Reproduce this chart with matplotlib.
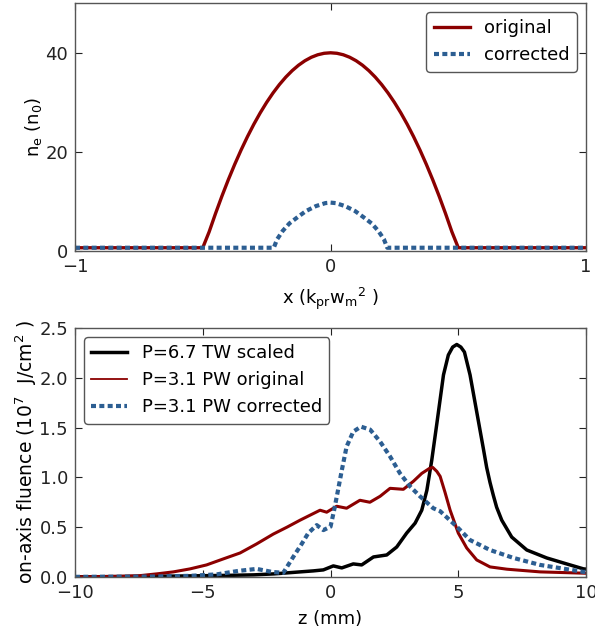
import matplotlib
matplotlib.use("Agg")
import matplotlib.pyplot as plt

# ---------------- data: top panel (density profiles) ----------------
x_orig = [-1.0, -0.5, -0.475, -0.45, -0.425, -0.4, -0.375, -0.35, -0.325, -0.3, -0.275,
          -0.25, -0.225, -0.2, -0.175, -0.15, -0.125, -0.1, -0.075, -0.05, -0.025, 0.0,
          0.025, 0.05, 0.075, 0.1, 0.125, 0.15, 0.175, 0.2, 0.225, 0.25, 0.275, 0.3,
          0.325, 0.35, 0.375, 0.4, 0.425, 0.45, 0.475, 0.5, 1.0]
n_orig = [0.7, 0.7, 3.9, 7.6, 11.1, 14.4, 17.5, 20.4, 23.1, 25.6, 27.9,
          30.0, 31.9, 33.6, 35.1, 36.4, 37.5, 38.4, 39.1, 39.6, 39.9, 40.0,
          39.9, 39.6, 39.1, 38.4, 37.5, 36.4, 35.1, 33.6, 31.9, 30.0, 27.9, 25.6,
          23.1, 20.4, 17.5, 14.4, 11.1, 7.6, 3.9, 0.7, 0.7]
x_corr = [-1.0, -0.222, -0.209, -0.187, -0.161, -0.128, -0.096, -0.057, -0.02, 0.0,
          0.02, 0.057, 0.096, 0.128, 0.161, 0.187, 0.209, 0.222, 1.0]
n_corr = [0.7, 0.7, 2.4, 4.1, 5.6, 6.9, 8.1, 9.1, 9.7, 9.8,
          9.7, 9.1, 8.1, 6.9, 5.6, 4.1, 2.4, 0.7, 0.7]

# ---------------- data: bottom panel (on-axis fluence) ----------------
z_tw = [-10, -8, -6, -4, -3, -2.2, -1.19, -0.67, -0.28, 0.11, 0.44, 0.89, 1.22, 1.68,
        2.2, 2.59, 2.98, 3.31, 3.57, 3.77, 3.96, 4.16, 4.42, 4.61, 4.78, 4.94, 5.1,
        5.24, 5.46, 5.72, 5.98, 6.11, 6.24, 6.37, 6.5, 6.7, 7.09, 7.68, 8.46, 9.24,
        9.9, 10]
f_tw = [0.0, 0.003, 0.008, 0.015, 0.02, 0.03, 0.05, 0.06, 0.07, 0.11, 0.09, 0.13, 0.12,
        0.20, 0.22, 0.30, 0.44, 0.54, 0.67, 0.87, 1.17, 1.54, 2.03, 2.23, 2.31, 2.336,
        2.31, 2.26, 2.03, 1.66, 1.29, 1.10, 0.95, 0.82, 0.70, 0.57, 0.40, 0.27, 0.19,
        0.13, 0.08, 0.078]

z_orig = [-10, -9, -8.2, -7.46, -6.8, -6.15, -5.5, -4.85, -4.2, -3.54, -2.9, -2.24,
          -1.7, -1.19, -0.8, -0.41, -0.15, 0.24, 0.63, 1.15, 1.54, 1.94, 2.33, 2.85,
          3.24, 3.57, 3.87, 4.0, 4.16, 4.29, 4.48, 4.68, 5.0, 5.33, 5.72, 6.24, 6.9,
          8.2, 9.9, 10]
f_orig = [0.0, 0.003, 0.006, 0.012, 0.03, 0.05, 0.08, 0.12, 0.18, 0.24, 0.33, 0.43,
          0.50, 0.57, 0.62, 0.67, 0.65, 0.71, 0.69, 0.77, 0.75, 0.81, 0.89, 0.88,
          0.96, 1.04, 1.09, 1.10, 1.06, 1.01, 0.85, 0.67, 0.44, 0.29, 0.17, 0.10, 0.077,
          0.05, 0.037, 0.036]

z_corr = [-10, -7, -5.5, -4.45, -3.6, -2.89, -2.3, -1.85, -1.46, -1.13, -0.87, -0.54,
          -0.28, 0.0, 0.14, 0.27, 0.44, 0.63, 0.89, 1.19, 1.55, 1.94, 2.33, 2.72, 3.11,
          3.5, 4.02, 4.29, 4.94, 5.46, 6.24, 7.16, 8.2, 9.9, 10]
f_corr = [0.0, 0.003, 0.01, 0.025, 0.06, 0.08, 0.05, 0.04, 0.20, 0.33, 0.44, 0.52,
          0.47, 0.505, 0.67, 0.84, 1.07, 1.31, 1.46, 1.51, 1.48, 1.36, 1.21, 1.04, 0.91,
          0.81, 0.69, 0.66, 0.505, 0.37, 0.27, 0.19, 0.12, 0.05, 0.05]

RED = "#8b0000"
BLUE = "#2c5e92"
FS = 13

plt.rcParams["font.family"] = "DejaVu Sans"
plt.rcParams["mathtext.default"] = "regular"

fig = plt.figure(figsize=(5.95, 6.36), dpi=100)
ax1 = fig.add_axes([0.126, 0.605, 0.859, 0.390])
ax2 = fig.add_axes([0.126, 0.093, 0.859, 0.391])

def style(ax):
    for s in ax.spines.values():
        s.set_color("#555555")
        s.set_linewidth(1.0)
    ax.tick_params(direction="in", top=True, right=True, length=5,
                   labelsize=FS, colors="#222222", pad=5)

ax1.plot(x_orig, n_orig, color=RED, lw=2.4, label="original")
ax1.plot(x_corr, n_corr, color=BLUE, lw=3, dashes=(1.2, 0.8), label="corrected")
ax1.set_xlim(-1, 1)
ax1.set_ylim(0, 50)
ax1.set_xticks([-1, 0, 1])
ax1.set_yticks([0, 20, 40])
ax1.set_xlabel("x (k$_{pr}$w$_m$$^2$ )", fontsize=FS, labelpad=7)
ax1.set_ylabel("n$_e$ (n$_0$)", fontsize=FS, labelpad=1)
style(ax1)
leg1 = ax1.legend(loc="upper right", fontsize=FS, fancybox=True, framealpha=1,
                  edgecolor="#555555", handlelength=2.0, borderpad=0.4)
leg1.get_frame().set_linewidth(1.0)

ax2.plot(z_tw, f_tw, color="black", lw=2.5, label="P=6.7 TW scaled")
ax2.plot(z_orig, f_orig, color=RED, lw=2.2, label="P=3.1 PW original")
ax2.plot(z_corr, f_corr, color=BLUE, lw=3, dashes=(1.2, 0.8), label="P=3.1 PW corrected")
ax2.set_xlim(-10, 10)
ax2.set_ylim(0, 2.5)
ax2.set_xticks([-10, -5, 0, 5, 10])
ax2.set_yticks([0, 0.5, 1.0, 1.5, 2.0, 2.5])
ax2.set_yticklabels(["0.0", "0.5", "1.0", "1.5", "2.0", "2.5"])
ax2.set_xlabel("z (mm)", fontsize=FS, labelpad=6)
ax2.set_ylabel("on-axis fluence (10$^7$  J/cm$^2$ )", fontsize=13.5, labelpad=0)
style(ax2)
leg2 = ax2.legend(loc="upper left", fontsize=FS, fancybox=True, framealpha=1,
                  edgecolor="#555555", handlelength=2.0, borderpad=0.4,
                  labelspacing=0.5)
leg2.get_frame().set_linewidth(1.0)
leg2.get_lines()[1].set_linewidth(1.3)

fig.savefig("out.png", dpi=100, facecolor="white")
